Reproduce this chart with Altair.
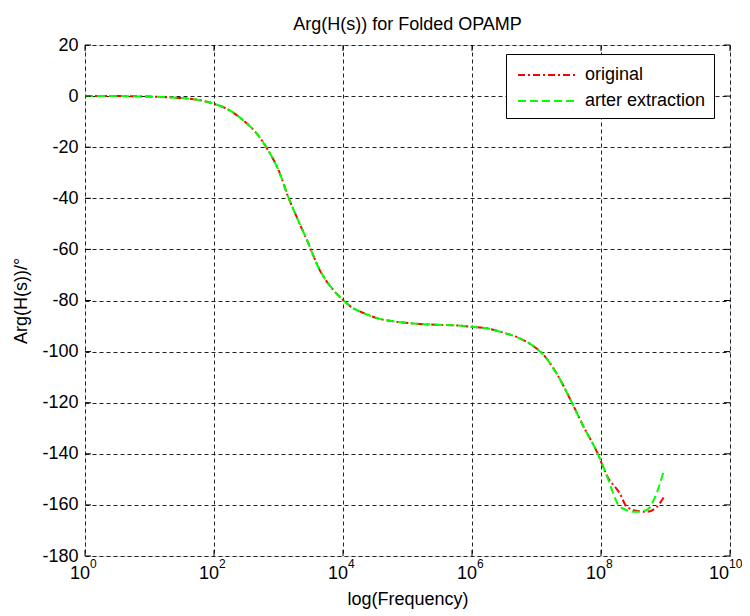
import altair as alt
import pandas as pd
import math

# log10(frequency) and phase (deg)
common_exp = [0.0, 0.5, 1.0, 1.4, 1.78, 2.0, 2.25, 2.45, 2.66, 2.82, 3.02, 3.15, 3.28,
              3.44, 3.64, 3.85, 4.0, 4.11, 4.31, 4.57, 4.83, 5.14, 5.45, 5.71, 6.0,
              6.23, 6.49, 6.74, 6.95, 7.11, 7.31, 7.52, 7.73, 7.94, 8.09]
common_phase = [0.0, 0.0, -0.2, -0.6, -1.6, -3.0, -5.7, -9.4, -14.6, -20.4, -30.2, -39.4, -47.2,
                -56.3, -68.1, -75.9, -79.8, -82.2, -84.8, -87.2, -88.3, -89.1, -89.5, -89.7, -90.3,
                -90.9, -92.6, -94.8, -97.8, -101.3, -108.5, -118.5, -129.4, -139.4, -148.5]

orig_tail_exp = [8.29, 8.40, 8.55, 8.71, 8.86, 8.98]
orig_tail_phase = [-155.5, -160.7, -162.3, -162.7, -160.9, -156.8]

after_tail_exp = [8.19, 8.29, 8.53, 8.71, 8.84, 8.97]
after_tail_phase = [-155.5, -160.7, -162.7, -162.0, -156.8, -147.0]

series_names = ["original", "arter extraction"]
series_colors = ["#ff0000", "#00ff00"]
series_dashes = [[7, 3, 2, 3], [8, 4]]

x_ticks = [1, 1e2, 1e4, 1e6, 1e8, 1e10]
y_ticks = [-180, -160, -140, -120, -100, -80, -60, -40, -20, 0, 20]

rows = []
for e, p in zip(common_exp + orig_tail_exp, common_phase + orig_tail_phase):
    rows.append({"freq": 10 ** e, "phase": p, "series": series_names[0]})
for e, p in zip(common_exp + after_tail_exp, common_phase + after_tail_phase):
    rows.append({"freq": 10 ** e, "phase": p, "series": series_names[1]})
df = pd.DataFrame(rows)

W, H = 645, 511
FONT = "Liberation Sans"
GRID = "#222222"

xscale = alt.Scale(type="log", domain=[1, 1e10], nice=False)
yscale = alt.Scale(domain=[-180, 20], nice=False, zero=False)

x_enc = alt.X("freq:Q", scale=xscale, title="log(Frequency)",
              axis=alt.Axis(values=x_ticks, labels=False, grid=True,
                            gridDash=[4, 3], gridColor=GRID, gridOpacity=1,
                            tickSize=0, domain=False, titlePadding=34,
                            titleFontSize=18, titleFont=FONT,
                            titleFontWeight="normal", titleColor="#000"))
y_enc = alt.Y("phase:Q", scale=yscale, title="Arg(H(s))/°",
              axis=alt.Axis(values=y_ticks, grid=True, gridDash=[4, 3], gridColor=GRID,
                            gridOpacity=1, tickSize=0, domain=False, labelPadding=7,
                            labelExpr="replace(datum.label, '−', '-')",
                            titleX=-64, titleY=H / 2, titleAngle=-90, titleAlign="center",
                            titleBaseline="middle",
                            labelFontSize=18, titleFontSize=18,
                            labelFont=FONT, titleFont=FONT, titleFontWeight="normal",
                            labelColor="#000", titleColor="#000", labelFlush=False))

legend_kw = dict(title=None, orient="none", legendX=421, legendY=9,
                 fillColor="white", strokeColor="#000", padding=8,
                 symbolType="M-0.75,0H4.08", symbolSize=576,
                 symbolStrokeWidth=2, labelFontSize=18, labelFont=FONT,
                 labelColor="#000", rowPadding=4, labelOffset=45,
                 cornerRadius=0)
color_enc = alt.Color("series:N", scale=alt.Scale(domain=series_names, range=series_colors),
                      legend=alt.Legend(**legend_kw))
dash_enc = alt.StrokeDash("series:N", scale=alt.Scale(domain=series_names, range=series_dashes),
                          legend=alt.Legend(**legend_kw))

base = alt.Chart(df)
line_orig = base.transform_filter(alt.datum.series == series_names[0]).mark_line(
    strokeWidth=2, interpolate="monotone").encode(x=x_enc, y=y_enc, color=color_enc, strokeDash=dash_enc)
line_after = base.transform_filter(alt.datum.series == series_names[1]).mark_line(
    strokeWidth=2, interpolate="monotone").encode(x=x_enc, y=y_enc, color=color_enc, strokeDash=dash_enc)

xt = pd.DataFrame({"t": x_ticks,
                   "base": ["10"] * len(x_ticks),
                   "exp": [str(int(round(math.log10(v)))) for v in x_ticks]})
yt = pd.DataFrame({"t": y_ticks})

tick_bot = alt.Chart(xt).mark_rule(color="#000", strokeWidth=1).encode(
    x=alt.X("t:Q", scale=xscale), y=alt.value(H), y2=alt.value(H - 6))
tick_top = alt.Chart(xt).mark_rule(color="#000", strokeWidth=1).encode(
    x=alt.X("t:Q", scale=xscale), y=alt.value(0), y2=alt.value(6))
tick_l = alt.Chart(yt).mark_rule(color="#000", strokeWidth=1).encode(
    y=alt.Y("t:Q", scale=yscale), x=alt.value(0), x2=alt.value(6))
tick_r = alt.Chart(yt).mark_rule(color="#000", strokeWidth=1).encode(
    y=alt.Y("t:Q", scale=yscale), x=alt.value(W), x2=alt.value(W - 6))


def tick_labels(cond, dx):
    src = alt.Chart(xt).transform_filter(cond)
    b = src.mark_text(font=FONT, fontSize=18, color="#000", align="right",
                      baseline="alphabetic", dx=dx).encode(
        x=alt.X("t:Q", scale=xscale), y=alt.value(H + 23), text="base:N")
    e = src.mark_text(font=FONT, fontSize=12, color="#000", align="left",
                      baseline="alphabetic", dx=dx).encode(
        x=alt.X("t:Q", scale=xscale), y=alt.value(H + 12), text="exp:N")
    return [b, e]


labels_inner = tick_labels(alt.datum.t < 1e9, 5)
labels_last = tick_labels(alt.datum.t > 1e9, -1)

chart = alt.layer(line_orig, line_after, tick_bot, tick_top, tick_l, tick_r,
                  *labels_inner, *labels_last).properties(
    width=W, height=H,
    title=alt.TitleParams("Arg(H(s)) for Folded OPAMP", font=FONT, fontSize=18,
                          fontWeight="normal", color="#000", anchor="middle", offset=2),
    autosize=alt.AutoSizeParams(type="none"),
    padding={"left": 77, "top": 37, "right": 12, "bottom": 54},
).configure_view(stroke="#000", strokeWidth=1).configure(background="white")

chart.save("out.html", embed_options={"renderer": "svg", "actions": False})
